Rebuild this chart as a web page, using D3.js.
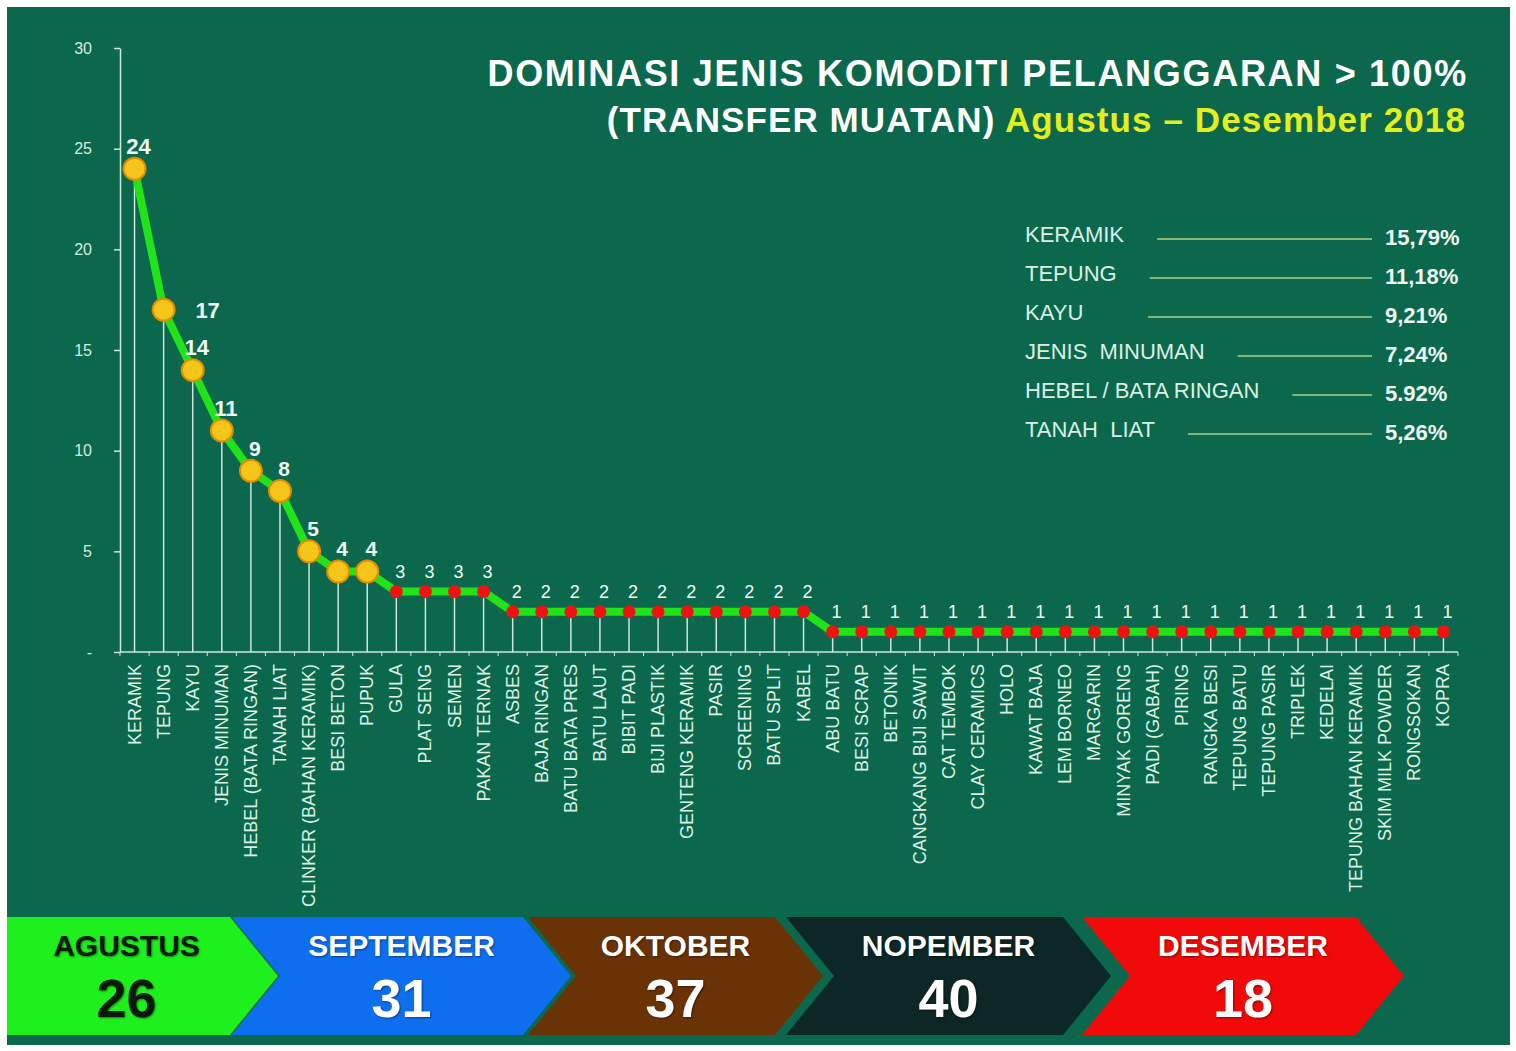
<!DOCTYPE html>
<html><head><meta charset="utf-8">
<script src="https://cdn.jsdelivr.net/npm/d3@7/dist/d3.min.js"></script>
<style>
body{margin:0;background:#fff;}
svg{display:block;font-family:"Liberation Sans",Arial,sans-serif;}
</style></head>
<body><svg id="c" width="1516" height="1051"></svg>
<script>
const categories = ["KERAMIK","TEPUNG","KAYU","JENIS MINUMAN","HEBEL (BATA RINGAN)","TANAH LIAT","CLINKER (BAHAN KERAMIK)","BESI BETON","PUPUK","GULA","PLAT SENG","SEMEN","PAKAN TERNAK","ASBES","BAJA RINGAN","BATU BATA PRES","BATU LAUT","BIBIT PADI","BIJI PLASTIK","GENTENG KERAMIK","PASIR","SCREENING","BATU SPLIT","KABEL","ABU BATU","BESI SCRAP","BETONIK","CANGKANG BIJI SAWIT","CAT TEMBOK","CLAY CERAMICS","HOLO","KAWAT BAJA","LEM BORNEO","MARGARIN","MINYAK GORENG","PADI (GABAH)","PIRING","RANGKA BESI","TEPUNG BATU","TEPUNG PASIR","TRIPLEK","KEDELAI","TEPUNG BAHAN KERAMIK","SKIM MILK POWDER","RONGSOKAN","KOPRA"];
const counts = [24,17,14,11,9,8,5,4,4,3,3,3,3,2,2,2,2,2,2,2,2,2,2,2,1,1,1,1,1,1,1,1,1,1,1,1,1,1,1,1,1,1,1,1,1,1];
const yTickValues = [0,5,10,15,20,25,30];
const yTickLabels = ["-","5","10","15","20","25","30"];
const legendNames = ["KERAMIK","TEPUNG","KAYU","JENIS  MINUMAN","HEBEL / BATA RINGAN","TANAH  LIAT"];
const legendPercents = ["15,79%","11,18%","9,21%","7,24%","5.92%","5,26%"];
const months = ["AGUSTUS","SEPTEMBER","OKTOBER","NOPEMBER","DESEMBER"];
const monthTotals = [26,31,37,40,18];
const monthColors = ["#1ef01e","#0d6ff0","#6a3306","#0c2725","#f20a0a"];
const monthTextColors = ["#0a1a0a","#ffffff","#ffffff","#ffffff","#ffffff"];
const titleLine1 = "DOMINASI JENIS KOMODITI PELANGGARAN > 100%";
const titleLine2a = "(TRANSFER MUATAN) ";
const titleLine2b = "Agustus \u2013 Desember 2018";

// layout
const chevLeft = [7,232,528,786,1082];
const chevRight = [230,523,775,1063,1356];
const chevDepth = 48, chevTop = 917, chevBot = 1035;

const svg = d3.select("#c");
svg.append("rect").attr("x",7).attr("y",7).attr("width",1503).attr("height",1038).attr("fill","#0b684c");

const x = d3.scaleBand().domain(categories).range([120,1458]).padding(0);
const cx = d => x(d) + x.bandwidth()/2;
const y = d3.scaleLinear().domain([0,30]).range([652,48]);
const axisCol = "#cfe6da";

// y axis
const ya = svg.append("g").attr("transform","translate(120,0)")
  .call(d3.axisLeft(y).tickValues(yTickValues).tickFormat((d,i)=>yTickLabels[i]).tickSize(6).tickSizeOuter(0).tickPadding(22));
ya.select(".domain").attr("stroke",axisCol).attr("stroke-width",1.5);
ya.selectAll(".tick line").attr("stroke",axisCol).attr("stroke-width",1.5);
ya.selectAll(".tick text").attr("fill","#d6ebe0").attr("font-size",16).attr("font-family","Liberation Sans, Arial, sans-serif");

// x axis line & ticks
svg.append("line").attr("x1",120).attr("x2",1458).attr("y1",y(0)).attr("y2",y(0)).attr("stroke",axisCol).attr("stroke-width",1.5);
svg.append("g").selectAll("line").data(categories.concat(["__end"])).join("line")
  .attr("x1",(d,i)=> i<categories.length ? x(d) : 1458).attr("x2",(d,i)=> i<categories.length ? x(d) : 1458)
  .attr("y1",y(0)).attr("y2",y(0)+4).attr("stroke",axisCol).attr("stroke-width",1);

// x labels
svg.append("g").selectAll("text").data(categories).join("text")
  .attr("transform",d=>`translate(${cx(d)+6},${y(0)+12}) rotate(-90)`)
  .attr("text-anchor","end").attr("font-size",18).attr("fill","#dcefe4").text(d=>d);

// drop lines
svg.append("g").selectAll("line").data(categories).join("line")
  .attr("x1",d=>cx(d)).attr("x2",d=>cx(d)).attr("y1",y(0)).attr("y2",(d,i)=>y(counts[i]))
  .attr("stroke","#e4f4ea").attr("stroke-width",1.5).attr("opacity",0.9);

// line
const line = d3.line().x((d,i)=>cx(categories[i])).y(d=>y(d));
svg.append("path").datum(counts).attr("d",line).attr("fill","none")
  .attr("stroke","#22e21a").attr("stroke-width",8).attr("stroke-linejoin","round");

// markers
svg.append("g").selectAll("circle").data(counts).join("circle")
  .attr("cx",(d,i)=>cx(categories[i])).attr("cy",d=>y(d))
  .attr("r",(d,i)=> i<9 ? 11 : 6.5)
  .attr("fill",(d,i)=> i<9 ? "#f6c51a" : "#ee1212")
  .attr("stroke",(d,i)=> i<9 ? "#e08e00" : "none").attr("stroke-width",2);

// value labels
svg.append("g").selectAll("text").data(counts).join("text")
  .attr("x",(d,i)=> cx(categories[i]) + (i===1 ? 44 : 4))
  .attr("y",(d,i)=> y(d) + (i===1 ? 8 : (i<9 ? -15 : -14)))
  .attr("text-anchor","middle")
  .attr("font-size",(d,i)=> i<4 ? 22 : (i<9 ? 21 : 18))
  .attr("font-weight",(d,i)=> i<9 ? "bold" : "normal")
  .attr("fill","#f2f8f4").text(d=>d);

// title
svg.append("text").attr("x",1468).attr("y",86).attr("text-anchor","end")
  .attr("font-size",36).attr("font-weight","bold").attr("letter-spacing",1.7).attr("fill","#ffffff").text(titleLine1);
const t2 = svg.append("text").attr("x",1466).attr("y",132).attr("text-anchor","end")
  .attr("font-size",35).attr("font-weight","bold").attr("letter-spacing",1.1);
t2.append("tspan").attr("fill","#ffffff").text(titleLine2a);
t2.append("tspan").attr("fill","#e4ee1c").text(titleLine2b);

// legend table
const lg = svg.append("g");
legendNames.forEach((n,i)=>{
  const by = 242 + i*39;
  const t = lg.append("text").attr("x",1025).attr("y",by).attr("font-size",22).attr("fill","#dcefe4").attr("xml:space","preserve").text(n);
  const w = t.node().getComputedTextLength();
  lg.append("line").attr("x1",Math.max(1148,1025+w+33)).attr("x2",1372).attr("y1",by-3).attr("y2",by-3)
    .attr("stroke","#a9cf8c").attr("stroke-width",1.5);
  lg.append("text").attr("x",1385).attr("y",by+3).attr("font-size",22).attr("font-weight","bold").attr("fill","#eef7f1").text(legendPercents[i]);
});

// chevrons
const cg = svg.append("g");
months.forEach((m,i)=>{
  const L = chevLeft[i], R = chevRight[i], d = chevDepth, mid = (chevTop+chevBot)/2;
  const pts = [[L,chevTop],[R,chevTop],[R+d,mid],[R,chevBot],[L,chevBot]];
  if(i>0) pts.push([L+d,mid]);
  cg.append("path").attr("d", d3.line()(pts)+"Z").attr("fill",monthColors[i]);
  const c = (L+R)/2 + (i>0 ? d/2 : d/6);
  cg.append("text").attr("x",c).attr("y",956).attr("text-anchor","middle").attr("font-size",30).attr("font-weight","bold")
    .attr("fill",monthTextColors[i]).style("text-shadow","1px 1px 2px rgba(0,0,0,0.45)").text(m);
  cg.append("text").attr("x",c).attr("y",1017).attr("text-anchor","middle").attr("font-size",54).attr("font-weight","bold")
    .attr("fill",monthTextColors[i]).style("text-shadow","1px 1px 2px rgba(0,0,0,0.45)").text(monthTotals[i]);
});
</script></body></html>
